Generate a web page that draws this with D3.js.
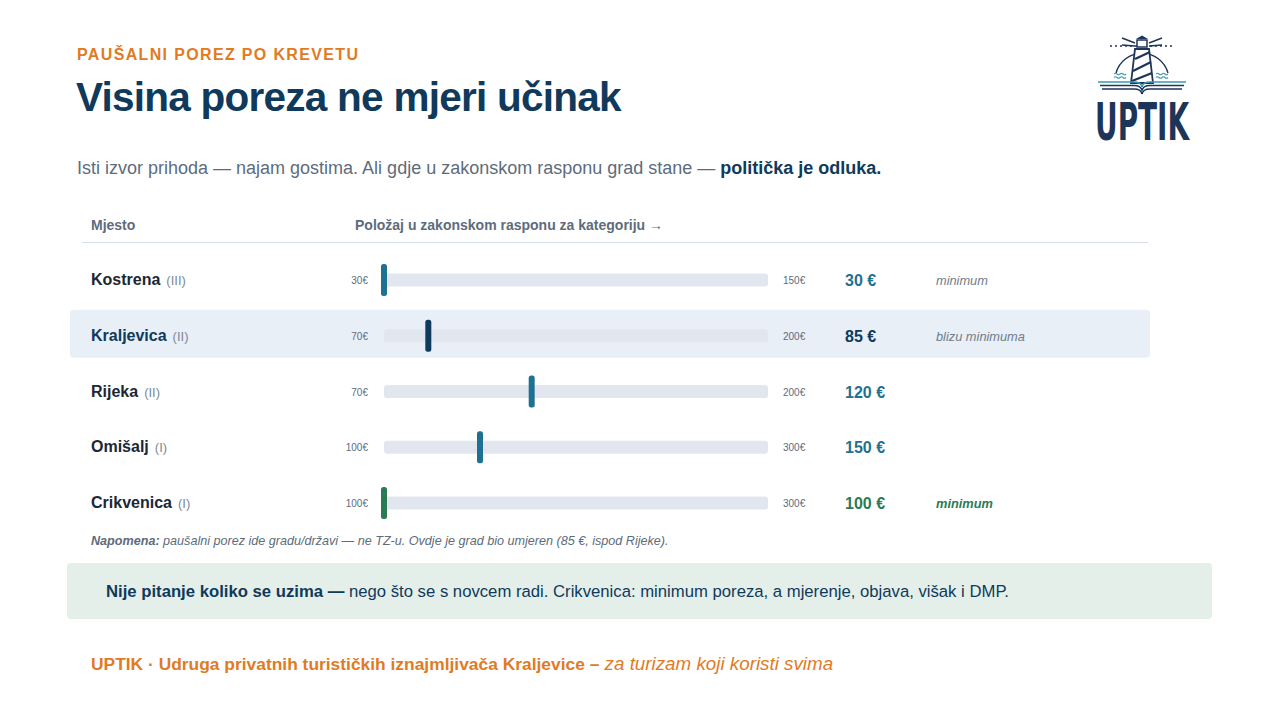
<!DOCTYPE html>
<html>
<head>
<meta charset="utf-8">
<script src="https://cdn.jsdelivr.net/npm/d3@7"></script>
<style>
  html, body { margin: 0; padding: 0; background: #fff; }
  svg { display: block; font-family: "Liberation Sans", Arial, sans-serif; }
</style>
</head>
<body>
<div id="chart"></div>
<script>
// data
const places = ["Kostrena", "Kraljevica", "Rijeka", "Omišalj", "Crikvenica"];
const categories = ["III", "II", "II", "I", "I"];
const rangeMin = [30, 70, 70, 100, 100];
const rangeMax = [150, 200, 200, 300, 300];
const taxValues = [30, 85, 120, 150, 100];
const verdicts = ["minimum", "blizu minimuma", "", "", "minimum"];

const W = 1280, H = 720;
const navy = "#0f3a5c", orange = "#e07b24", teal = "#1f7191", green = "#2b7a56", grey = "#5d6c7c";

const rows = places.map((p, i) => ({
    place: p, cat: categories[i], lo: rangeMin[i], hi: rangeMax[i], v: taxValues[i], note: verdicts[i]
}));

// row styling (not data)
const markColor = d => d.place === "Kraljevica" ? navy : (d.place === "Crikvenica" ? green : teal);

const svg = d3.select("#chart").append("svg").attr("width", W).attr("height", H);

// header
svg.append("text").attr("x", 77).attr("y", 60)
    .attr("fill", orange).attr("font-size", 16).attr("font-weight", "bold")
    .attr("letter-spacing", 1.35).text("PAUŠALNI POREZ PO KREVETU");
svg.append("text").attr("x", 76).attr("y", 111)
    .attr("fill", navy).attr("font-size", 40.5).attr("font-weight", "bold")
    .attr("letter-spacing", -0.75).text("Visina poreza ne mjeri učinak");
const sub = svg.append("text").attr("x", 77).attr("y", 174).attr("font-size", 18).attr("fill", grey);
sub.append("tspan").text("Isti izvor prihoda — najam gostima. Ali gdje u zakonskom rasponu grad stane — ");
sub.append("tspan").attr("fill", navy).attr("font-weight", "bold").text("politička je odluka.");

// table header
svg.append("text").attr("x", 91).attr("y", 230).attr("font-size", 14).attr("font-weight", "bold")
    .attr("fill", grey).text("Mjesto");
svg.append("text").attr("x", 355).attr("y", 230).attr("font-size", 14).attr("font-weight", "bold")
    .attr("fill", grey).text("Položaj u zakonskom rasponu za kategoriju →");
svg.append("line").attr("x1", 82).attr("x2", 1148).attr("y1", 242.5).attr("y2", 242.5)
    .attr("stroke", "#d6dde5");

// scales
const y = d3.scaleBand().domain(places).range([252, 531]).padding(0);
const trackRange = [384, 768];

// highlighted row background
svg.append("rect").attr("x", 70).attr("y", y("Kraljevica") + 2).attr("width", 1080)
    .attr("height", 48).attr("rx", 4).attr("fill", "#e8eff6");

const g = svg.selectAll("g.row").data(rows).join("g").attr("class", "row")
    .attr("transform", d => `translate(0,${y(d.place) + y.bandwidth() / 2})`);

const name = g.append("text").attr("x", 91).attr("y", 5);
name.append("tspan").attr("font-size", 16).attr("font-weight", "bold")
    .attr("fill", d => d.place === "Kraljevica" ? navy : "#1b2735").text(d => d.place);
name.append("tspan").attr("dx", 6).attr("font-size", 13).attr("fill", "#7d8995").text(d => `(${d.cat})`);

g.append("text").attr("x", 368).attr("y", 4).attr("text-anchor", "end")
    .attr("font-size", 10).attr("fill", grey).text(d => d.lo + "€");
g.append("text").attr("x", 783).attr("y", 4)
    .attr("font-size", 10).attr("fill", grey).text(d => d.hi + "€");

g.append("rect").attr("x", trackRange[0]).attr("y", -6.5)
    .attr("width", trackRange[1] - trackRange[0]).attr("height", 13).attr("rx", 3)
    .attr("fill", "#e2e7ef");

g.append("rect")
    .attr("x", d => d3.scaleLinear().domain([d.lo, d.hi]).range(trackRange)(d.v) - 3)
    .attr("y", -16).attr("width", 6).attr("height", 32).attr("rx", 2.5)
    .attr("fill", markColor);

g.append("text").attr("x", 845).attr("y", 6).attr("font-size", 16).attr("font-weight", "bold")
    .attr("fill", markColor).text(d => d.v + " €");

g.append("text").attr("x", 936).attr("y", 5).attr("font-size", 12.8).attr("font-style", "italic")
    .attr("font-weight", d => d.place === "Crikvenica" ? "bold" : "normal")
    .attr("fill", d => d.place === "Crikvenica" ? green : "#6f7d8c").text(d => d.note);

// note
const note = svg.append("text").attr("x", 91).attr("y", 545).attr("font-size", 12.6)
    .attr("font-style", "italic").attr("fill", grey);
note.append("tspan").attr("font-weight", "bold").text("Napomena:");
note.append("tspan").text(" paušalni porez ide gradu/državi — ne TZ-u. Ovdje je grad bio umjeren (85 €, ispod Rijeke).");

// callout
svg.append("rect").attr("x", 67).attr("y", 563).attr("width", 1145).attr("height", 56)
    .attr("rx", 4).attr("fill", "#e5efe9");
const call = svg.append("text").attr("x", 106).attr("y", 597).attr("font-size", 16.7).attr("fill", navy);
call.append("tspan").attr("font-weight", "bold").text("Nije pitanje koliko se uzima —");
call.append("tspan").text(" nego što se s novcem radi. Crikvenica: minimum poreza, a mjerenje, objava, višak i DMP.");

// footer
const foot = svg.append("text").attr("x", 91).attr("y", 670).attr("fill", orange);
foot.append("tspan").attr("font-size", 17.4).attr("font-weight", "bold")
    .text("UPTIK · Udruga privatnih turističkih iznajmljivača Kraljevice –");
foot.append("tspan").attr("font-size", 18.8).attr("font-style", "italic").text(" za turizam koji koristi svima");

// logo
const logo = svg.append("g").attr("transform", "translate(1142,0)");
const lc = "#1c3558", lt = "#3a9ab0";
logo.append("line").attr("x1", -32).attr("x2", 30).attr("y1", 46).attr("y2", 46)
    .attr("stroke", lc).attr("stroke-width", 1.3).attr("stroke-dasharray", "2,3");
// rays
[[-20, 38, -7, 43], [20, 38, 7, 43], [-20, 45, -7, 46], [20, 45, 7, 46]].forEach(r =>
    logo.append("line").attr("x1", r[0]).attr("y1", r[1]).attr("x2", r[2]).attr("y2", r[3])
        .attr("stroke", lc).attr("stroke-width", 1.4));
// sun arc
logo.append("path").attr("d", "M-26,73 A27,27 0 0 1 26,73").attr("fill", "none")
    .attr("stroke", lc).attr("stroke-width", 1.4);
// lighthouse
logo.append("path").attr("d", "M-6,39 L0,35.5 L6,39 Z").attr("fill", lc);
logo.append("rect").attr("x", -5).attr("y", 40).attr("width", 10).attr("height", 7)
    .attr("fill", "#fff").attr("stroke", lc).attr("stroke-width", 1.5);
logo.append("path").attr("d", "M-7,49 L7,49 L11,83 L-11,83 Z").attr("fill", "#fff")
    .attr("stroke", lc).attr("stroke-width", 1.8);
["M-7,59 L8,52", "M-9,71 L9,62", "M-10,81 L10,73"].forEach(p =>
    logo.append("path").attr("d", p).attr("stroke", lc).attr("stroke-width", 2.2));
// waves
[[-22, 74], [20, 74], [-22, 77.5], [20, 77.5]].forEach(w =>
    logo.append("path").attr("d", `M${w[0] - 6},${w[1]} q1.5,-1.5 3,0 t3,0 t3,0 t3,0`)
        .attr("fill", "none").attr("stroke", lt).attr("stroke-width", 1.1));
// book
[82, 85.5, 89].forEach((yy, i) => {
    const c = i === 0 ? lt : lc;
    logo.append("path").attr("d", `M${-44 + i * 2},${yy} L-8,${yy} Q-1,${yy} 0,${yy + 5}`)
        .attr("fill", "none").attr("stroke", c).attr("stroke-width", 1.5);
    logo.append("path").attr("d", `M${44 - i * 2},${yy} L8,${yy} Q1,${yy} 0,${yy + 5}`)
        .attr("fill", "none").attr("stroke", c).attr("stroke-width", 1.5);
});
logo.append("text").attr("x", 0).attr("y", 140).attr("text-anchor", "middle")
    .attr("font-family", "'Liberation Sans Narrow', 'DejaVu Sans Condensed', sans-serif")
    .attr("font-size", 52).attr("font-weight", "bold").attr("fill", lc)
    .attr("textLength", 94).attr("lengthAdjust", "spacingAndGlyphs").text("UPTIK");
</script>
</body>
</html>
